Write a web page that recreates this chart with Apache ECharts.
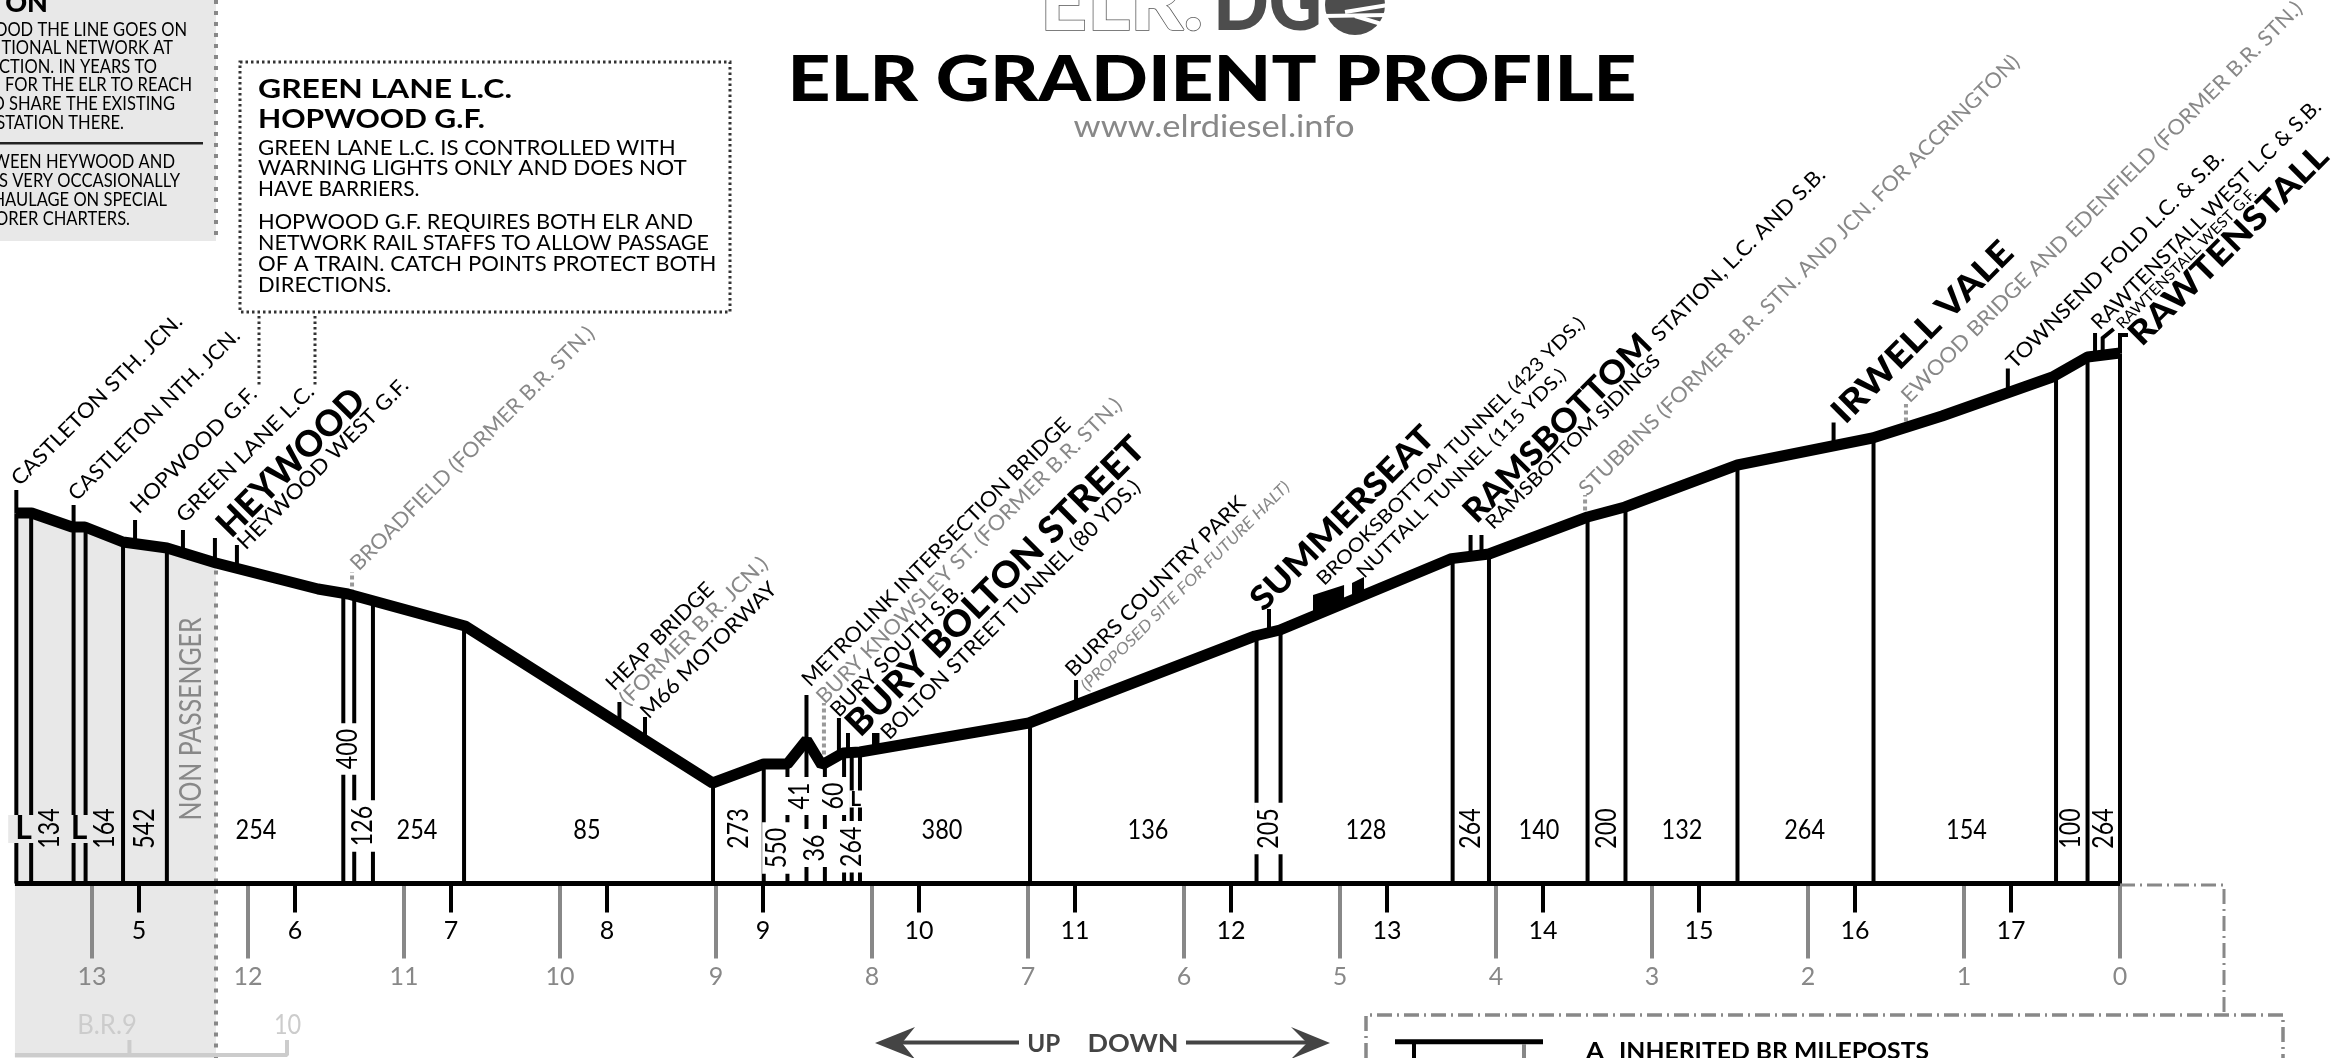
<!DOCTYPE html>
<html><head><meta charset="utf-8">
<style>html,body{margin:0;padding:0;background:#fff}#c{width:2344px;height:1058px}</style>
<script src="https://cdn.jsdelivr.net/npm/echarts@6/dist/echarts.min.js"></script>
</head><body><div id="c"></div>
<script>
// ---- data: mileage in BR miles from Rawtenstall, height in chart units above the datum ----
const profileMiles=[13.487,13.387,13.128,13.045,12.801,12.519,12.205,11.551,11.359,10.609,9.022,8.694,8.542,8.419,8.322,8.186,8.077,6.994,5.545,5.385,4.285,4.045,3.413,3.173,2.452,1.587,1.141,0.433,0.208,0];
const profileHeights=[370.5,370.5,356.5,356.5,341.5,335.5,320.5,294.5,289.5,257.5,100.5,119.5,119.5,143.5,118.5,130.5,131.5,160.5,247.5,253.5,324.9,329.5,366.5,376.5,418.5,445.5,467.5,506.5,526.5,530.5];
const postMiles=[13.485,13.39,13.118,13.041,12.801,12.52,11.389,11.319,11.199,10.615,9.019,8.694,8.542,8.42,8.302,8.179,8.13,8.077,6.987,5.535,5.381,4.278,4.045,3.413,3.17,2.452,1.58,0.41,0.208,0];
const postHeights=[370,370,356,356,341,335,290,289,283,257,100,119,119,143,121,130,131,131,160,247,253,325,329,366,376,418,445,507,526,530];
const gradientTexts=['L','134','L','164','542','254','400','126','254','85','273','550','41','36','60','264','L','380','136','205','128','264','140','200','132','264','154','100','264'];
const gradientMiles=[13.439,13.269,13.083,12.92,12.66,11.949,11.359,11.263,10.917,9.827,8.853,8.611,8.466,8.365,8.244,8.13,8.105,7.551,6.231,5.458,4.833,4.163,3.724,3.292,2.808,2.022,0.984,0.314,0.103];
const gradientLabelLevels=[54.5,55,54.5,55,55,53.5,134.5,57.5,53.5,53.5,55,35.5,87.5,35.5,87.5,36.8,84.5,53.5,53.5,55,53.5,55,53.5,55,53.5,53.5,53.5,55,55];
const gradientUpright=[1,0,1,0,0,1,0,0,1,1,0,0,0,0,0,0,1,1,1,0,1,0,1,0,1,1,1,0,0];
const gradientMasks=[1,0,1,0,0,0,1,1,0,0,0,1,1,1,1,1,1,0,0,1,0,0,0,0,0,0,0,0,0];
const elrMileposts=[5,6,7,8,9,10,11,12,13,14,15,16,17];
const brMileposts=[13,12,11,10,9,8,7,6,5,4,3,2,1,0];
const stationMiles=[13.485,13.118,12.724,12.417,12.212,12.071,11.333,9.619,9.455,8.42,8.308,8.212,8.154,7.978,6.692,5.455,5.071,4.885,4.163,4.093,3.429,1.836,1.372,0.719,0.16,0.111,0];
const stationTops=[393.5,378.5,363.5,353.5,345.5,338.5,311.5,181.5,166.5,188.5,180.5,165.5,150.5,150.5,203.5,274.5,293.5,303.5,348.5,348.5,388.5,461,479.5,515,550.5,545.5,548.5];
const stationFoots=[370,356,339,330,321,314,290,160,142,143,122,128,130,132,181,251,275,286,327,328,366,439,455,490,526,528,530];
const stationKinds=['t','t','t','t','t','t','d','t','t','t','d','t','t','b','t','t','b','b','t','t','d','t','d','t','t','t','t'];
const stationLabelTexts=['CASTLETON STH. JCN.','CASTLETON NTH. JCN.','HOPWOOD G.F.','GREEN LANE L.C.','HEYWOOD','HEYWOOD WEST G.F.','BROADFIELD (FORMER B.R. STN.)','HEAP BRIDGE','(FORMER B.R. JCN.)','M66 MOTORWAY','METROLINK INTERSECTION BRIDGE','BURY KNOWSLEY ST. (FORMER B.R. STN.)','BURY SOUTH S.B.','BURY BOLTON STREET','BOLTON STREET TUNNEL (80 YDS.)','BURRS COUNTRY PARK','(PROPOSED SITE FOR FUTURE HALT)','SUMMERSEAT','BROOKSBOTTOM TUNNEL (423 YDS.)','NUTTALL TUNNEL (115 YDS.)','RAMSBOTTOM','STATION, L.C. AND S.B.','RAMSBOTTOM SIDINGS','STUBBINS (FORMER B.R. STN. AND JCN. FOR ACCRINGTON)','IRWELL VALE','EWOOD BRIDGE AND EDENFIELD (FORMER B.R. STN.)','TOWNSEND FOLD L.C. & S.B.','RAWTENSTALL WEST L.C & S.B.','RAWTENSTALL WEST G.F.','RAWTENSTALL'];
const tunnelStart=[5.173,4.923],tunnelEnd=[4.974,4.846],tunnelTopStart=[288.5,300.5],tunnelTopEnd=[298.5,306.5],tunnelFootStart=[267.5,283.5],tunnelFootEnd=[280.5,288.5];
const boltonTunnelStart=[8.0],boltonTunnelEnd=[7.952];
const baseMiles=[13.494,0],baseHeights=[0,0];
const oldBrMiles=[13.494,12.76,12.76,12.76,11.75,11.75],oldBrHeights=[-171.5,-171.5,-156.5,-171.5,-171.5,-156.5];
const nonPassengerMile=[12.205];

// ---- label layout (station index, offset from tick top, text run length, font px, style) ----
const labelLayout=[[0,-1.4,-8,232,21,'n'],[1,-1.6,-8,233,21,'n'],[2,-1,-10,169,21,'n'],[3,-3,-11,185,21,'n'],[4,8,-7,193,36,'b'],[5,4,1,232,21,'n'],[6,2,-5,335,21,'g'],[7,-10,-15,143,21,'n'],[7,3.6,0,200,21,'g'],[8,-1,-2,183,21,'n'],[9,-1,-12,370,21,'n'],[10,-4,-3,422,21,'g'],[11,-5,-4.5,178,21,'n'],[12,4,-3,406,36,'b'],[13,9,3,357,21,'n'],[14,-7,-7,245,21,'n'],[14,7.5,8,288,16,'gi'],[15,-13,-4,245,33,'b'],[16,-9,-8,370,19,'n'],[17,2,-5,287,19,'n'],[18,-1.6,-18,251,33,'b'],[18,184.4,-197,236,21,'n'],[19,7.5,-9,238,19,'n'],[20,-2.5,-3,613,21,'g'],[21,3.9,-5,241,34,'b'],[22,-1,-5,557,21,'g'],[23,2.2,-3.5,298,21,'n'],[24,0,-7,315,21,'n'],[25,16.3,-12,191,15,'n'],[26,14.3,5,267,33,'b']];
const FF='Lato,"Open Sans",sans-serif';
const GREY='#888',ZONE='#e8e8e8';
const mctx=document.createElement('canvas').getContext('2d');
function fit(text,font,len){mctx.font=font;return len/mctx.measureText(text).width;}
function fontOf(size,kind){return (kind==='gi'?'italic ':'')+(kind==='b'?'900 ':'400 ')+size+'px '+FF;}

const chart=echarts.init(document.getElementById('c'),null,{renderer:'canvas',width:2344,height:1058});

function renderZone(p,api){
  const pts=profileMiles.slice(0,7).map((m,i)=>api.coord([m,profileHeights[i]]));
  const a=api.coord([profileMiles[6],-175]),b=api.coord([13.494,-175]),c=api.coord([13.494,profileHeights[0]]);
  return {type:'polygon',shape:{points:[c].concat(pts,[a,b])},style:{fill:ZONE}};
}
function renderPost(p,api){
  const t=api.coord([api.value(0),api.value(1)]),b=api.coord([api.value(0),0]);
  return {type:'line',shape:{x1:t[0],y1:t[1],x2:b[0],y2:b[1]},style:{stroke:'#000',lineWidth:4}};
}
function renderStation(p,api){
  const i=api.value(2),kind=stationKinds[i];
  if(kind==='b') return null;
  const t=api.coord([api.value(0),api.value(1)]),f=api.coord([api.value(0),stationFoots[i]]);
  const pts=[f,t];
  if(i===25) pts.push([t[0]+11,t[1]-9]);
  if(i===26) pts.push([t[0]+8,t[1]]);
  return {type:'polyline',shape:{points:pts},style:{fill:null,stroke:kind==='d'?'#999':'#000',lineWidth:4,lineDash:kind==='d'?[4,3]:null}};
}
function renderLabel(p,api){
  const i=api.value(2),l=labelLayout[i],c=api.coord([api.value(0),api.value(1)]),txt=stationLabelTexts[i],kind=l[5],font=fontOf(l[4],kind);
  return {type:'text',x:c[0]+l[1],y:c[1]+l[2],rotation:Math.PI/4,scaleX:fit(txt,font,l[3]),
    style:{text:txt,font:font,fill:kind[0]==='g'?GREY:'#000',align:'left',verticalAlign:'middle'}};
}
function renderGradient(p,api){
  const i=api.value(2),c=api.coord([api.value(0),api.value(1)]),up=gradientUpright[i],txt=gradientTexts[i];
  const isL=txt==='L',small=isL&&i===16;
  const size=small?21:(isL?32:(up?27:29));
  const st={text:txt,font:(isL?'700 ':'400 ')+size+'px '+FF,fill:'#000',align:'center',verticalAlign:'middle'};
  if(gradientMasks[i]){st.backgroundColor=i<5?ZONE:'#fff';st.padding=up?[-2,small?1:7]:[0,7];}
  return {type:'text',x:c[0],y:c[1],rotation:up?0:Math.PI/2,scaleX:up?(isL?1:0.87):0.8,style:st};
}
function renderTunnel(p,api){
  const i=api.value(0);
  return {type:'polygon',shape:{points:[[tunnelStart[i],tunnelTopStart[i]],[tunnelEnd[i],tunnelTopEnd[i]],[tunnelEnd[i],tunnelFootEnd[i]],[tunnelStart[i],tunnelFootStart[i]]].map(q=>api.coord(q))},style:{fill:'#000'}};
}
function renderBoltonTunnel(p,api){
  const a=api.coord([boltonTunnelStart[0],stationTops[13]]),b=api.coord([boltonTunnelEnd[0],stationFoots[13]]);
  return {type:'rect',shape:{x:a[0],y:a[1],width:b[0]-a[0],height:b[1]-a[1]},style:{fill:'#000'}};
}

// ---- annotations ----
const g=[];
const T=(text,x,y,size,opt)=>{opt=opt||{};const font=(opt.weight||400)+' '+size+'px '+FF;
  g.push({type:'text',x:x,y:y,rotation:opt.rot||0,scaleX:opt.len?fit(text,font,opt.len):(opt.sx||1),silent:true,
    style:{text:text,font:font,fill:opt.color||'#000',align:opt.align||'left',verticalAlign:'middle',stroke:opt.stroke,lineWidth:opt.lw}});};
const L=(pts,stroke,w,dash)=>g.push({type:'polyline',silent:true,shape:{points:pts},style:{fill:null,stroke:stroke,lineWidth:w,lineDash:dash||null}});
const P=(pts,fill)=>g.push({type:'polygon',silent:true,shape:{points:pts},style:{fill:fill}});
// top-left clipped box
g.push({type:'rect',silent:true,shape:{x:0,y:0,width:216,height:241},style:{fill:ZONE}});
g.push({type:'line',silent:true,shape:{x1:216,y1:0,x2:216,y2:240},style:{stroke:GREY,lineWidth:4,lineDash:[4,7]}});
T('ON',48,3,27,{weight:900,align:'right'});
[['OOD THE LINE GOES ON',187,30],['TIONAL NETWORK AT',173,48],['CTION. IN YEARS TO',157,67],['FOR THE ELR TO REACH',192,85],['D SHARE THE EXISTING',175,104],['STATION THERE.',124,123],['WEEN HEYWOOD AND',175,162],['S VERY OCCASIONALLY',180,181],['HAULAGE ON SPECIAL',167,200],['ORER CHARTERS.',130,219]]
 .forEach(r=>T(r[0],r[1],r[2],19,{align:'right',sx:0.87}));
g.push({type:'rect',silent:true,shape:{x:0,y:142,width:203,height:2.5},style:{fill:'#222'}});
// dotted note box
g.push({type:'rect',silent:true,shape:{x:240,y:62,width:490,height:250},style:{fill:null,stroke:'#333',lineWidth:3,lineDash:[2.5,3]}});
L([[259,316],[259,387]],'#333',3,[2.5,3]);L([[315,316],[315,387]],'#333',3,[2.5,3]);
T('GREEN LANE L.C.',258,89.5,27,{weight:700,len:254});
T('HOPWOOD G.F.',258,119,27,{weight:700,len:227});
[['GREEN LANE L.C. IS CONTROLLED WITH',147.7,417.6],['WARNING LIGHTS ONLY AND DOES NOT',168,428.6],['HAVE BARRIERS.',189,161.4],['HOPWOOD G.F. REQUIRES BOTH ELR AND',222.4,435],['NETWORK RAIL STAFFS TO ALLOW PASSAGE',243.4,451],['OF A TRAIN. CATCH POINTS PROTECT BOTH',263.7,458.4],['DIRECTIONS.',284.6,133.5]]
 .forEach(r=>T(r[0],258,r[1],22,{len:r[2]}));
// title block
T('ELR.',1040,4,80,{weight:900,len:163,color:'#fff',stroke:'#555',lw:1.5});
T('DG',1213,4,80,{weight:900,len:109,color:'#4d4d4d'});
g.push({type:'circle',silent:true,shape:{cx:1355,cy:5,r:30},style:{fill:'#4d4d4d'}});
L([[1345,12],[1388,5]],'#fff',4);L([[1322,16],[1388,15]],'#fff',4);L([[1355,16],[1388,26]],'#fff',4);
T('ELR GRADIENT PROFILE',1212,81,62,{weight:900,align:'center',len:849});
T('www.elrdiesel.info',1214,127,31,{align:'center',len:281,color:GREY});
T('NON PASSENGER',191.5,719,30,{rot:Math.PI/2,align:'center',len:203,color:GREY});
// old BR labels
T('B.R.9',107,1025.5,27,{align:'center',sx:0.95,color:'#ccc'});
T('10',287.5,1025.5,27,{align:'center',sx:0.87,color:'#ccc'});
// direction arrows
P([[875,1043],[915,1027],[902,1043],[915,1059]],'#444');P([[1330,1043],[1291,1027],[1307,1043],[1291,1059]],'#444');
L([[902,1042.5],[1019,1042.5]],'#444',4);L([[1186,1042.5],[1307,1042.5]],'#444',4);
T('UP',1043.7,1043.5,25,{weight:700,align:'center',len:33,color:'#444'});
T('DOWN',1133,1043.5,25,{weight:700,align:'center',len:91,color:'#444'});
// legend frame and connector
const DD=[15,5,2,5];
L([[2120,885],[2224,885],[2224,1015]],GREY,3,DD);
L([[1366,1058],[1366,1015],[2283,1015],[2283,1058]],GREY,3.5,DD);
L([[1395,1041.7],[1543,1041.7]],'#000',5);L([[1414,1044],[1414,1058]],'#000',4);L([[1524,1044],[1524,1058]],GREY,4);
T('A',1586,1052,23,{weight:700,len:18});
T('INHERITED BR MILEPOSTS',1619,1052,23,{weight:700,len:310});

const option={
  animation:false,backgroundColor:'#fff',
  grid:{left:0,right:0,top:0,height:883.5,outerBoundsMode:'none'},
  xAxis:[
    {type:'value',min:-1.4359,max:13.5897,inverse:true,position:'bottom',splitLine:{show:false},axisLine:{show:false},
     axisTick:{show:true,length:75,customValues:brMileposts,lineStyle:{color:GREY,width:4}},
     axisLabel:{show:true,customValues:brMileposts,margin:81,color:GREY,fontSize:25,fontFamily:FF,formatter:v=>String(v)}},
    {type:'value',min:4.109,max:19.1346,position:'bottom',splitLine:{show:false},axisLine:{show:false},
     axisTick:{show:true,length:29,customValues:elrMileposts,lineStyle:{color:'#000',width:4}},
     axisLabel:{show:true,customValues:elrMileposts,margin:35,color:'#000',fontSize:25,fontFamily:FF,formatter:v=>String(v)}}
  ],
  yAxis:{type:'value',min:0,max:883.5,show:false,splitLine:{show:false}},
  graphic:{elements:g},
  series:[
    {type:'custom',silent:true,z:-1,renderItem:renderZone,data:[[13.494,0]],encode:{x:0,y:1}},
    {type:'line',silent:true,z:2,clip:false,symbol:'none',data:[[nonPassengerMile[0],-175],[nonPassengerMile[0],320]],lineStyle:{color:GREY,width:4,type:[4,7]}},
    {type:'line',silent:true,z:2,clip:false,symbol:'none',data:oldBrMiles.map((m,i)=>[m,oldBrHeights[i]]),lineStyle:{color:'#ccc',width:4}},
    {type:'custom',silent:true,z:3,renderItem:renderPost,data:postMiles.map((m,i)=>[m,postHeights[i]]),encode:{x:0,y:1}},
    {type:'custom',silent:true,z:3,renderItem:renderStation,data:stationMiles.map((m,i)=>[m,stationTops[i],i]),encode:{x:0,y:1}},
    {type:'custom',silent:true,z:3,renderItem:renderBoltonTunnel,data:[[boltonTunnelStart[0],stationTops[13]]],encode:{x:0,y:1}},
    {type:'custom',silent:true,z:3,renderItem:renderTunnel,data:tunnelStart.map((m,i)=>[i,tunnelTopStart[i]]),encode:{y:1}},
    {type:'custom',silent:true,z:4,renderItem:renderGradient,data:gradientMiles.map((m,i)=>[m,gradientLabelLevels[i],i]),encode:{x:0,y:1}},
    {type:'custom',silent:true,z:4,renderItem:renderLabel,data:labelLayout.map((l,i)=>[stationMiles[l[0]],stationTops[l[0]],i]),encode:{x:0,y:1}},
    {type:'line',silent:true,z:5,clip:false,symbol:'none',data:baseMiles.map((m,i)=>[m,baseHeights[i]]),lineStyle:{color:'#000',width:5,cap:'butt'}},
    {type:'line',silent:true,z:6,clip:false,symbol:'none',data:profileMiles.map((m,i)=>[m,profileHeights[i]]),lineStyle:{color:'#000',width:11,join:'bevel'}}
  ]
};
chart.setOption(option);
</script></body></html>
